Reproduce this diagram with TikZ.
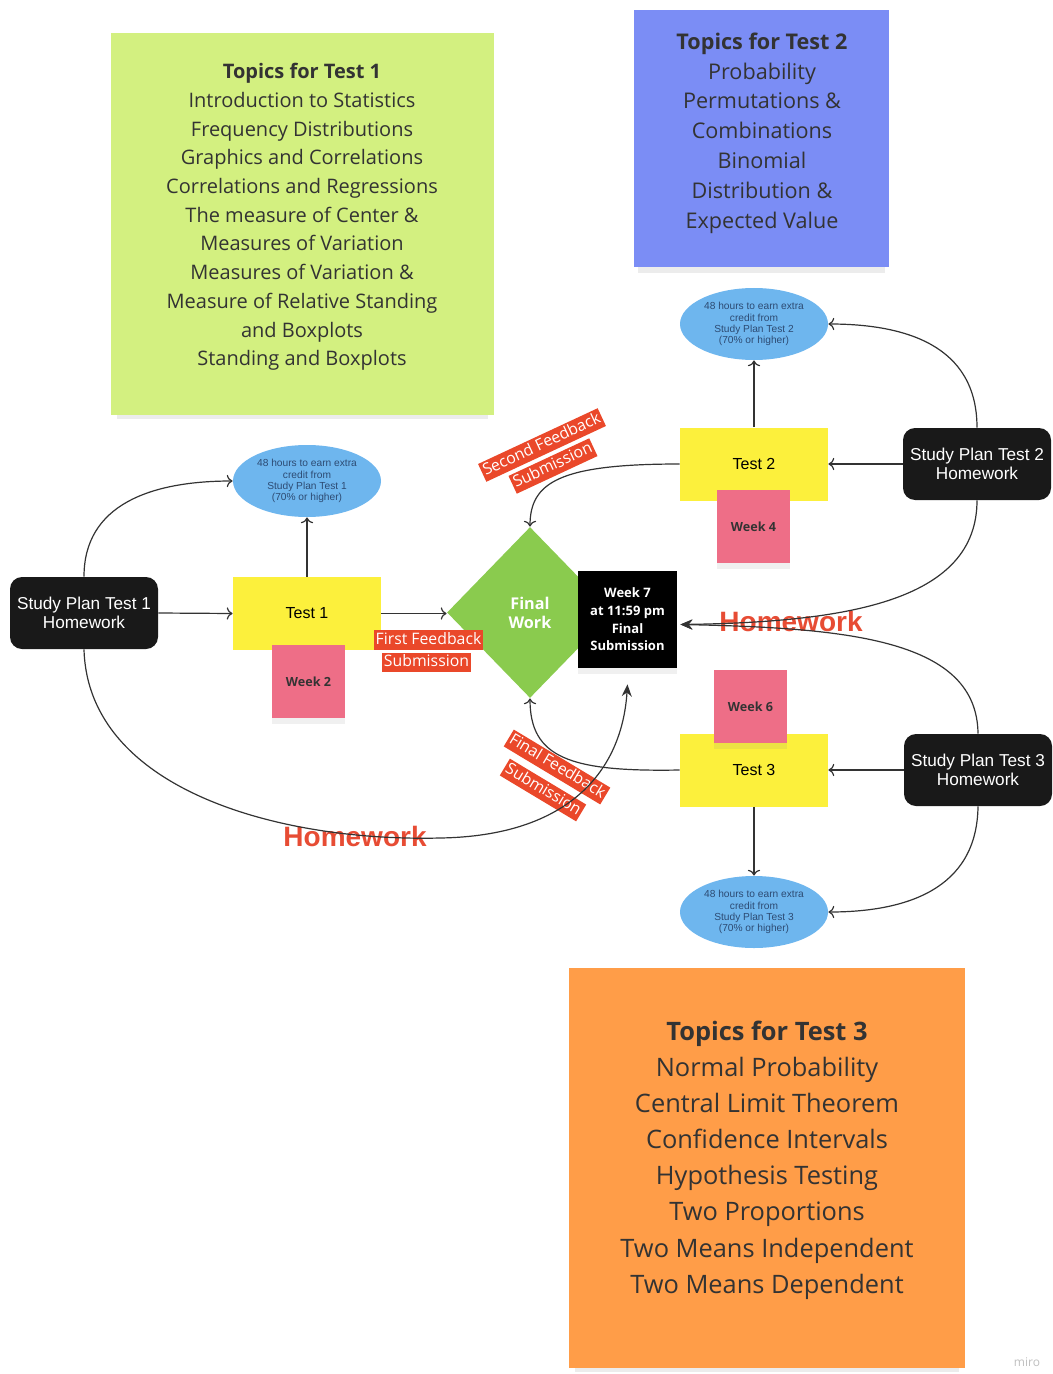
\documentclass[tikz,border=0pt]{standalone}
\usepackage{fontspec}
\setmainfont{Open Sans}
\newfontfamily\arialfont{Liberation Sans}
\usetikzlibrary{shapes.geometric,shadows,arrows.meta}
\definecolor{notegreen}{RGB}{211,240,128}
\definecolor{noteblue}{RGB}{123,141,245}
\definecolor{noteorange}{RGB}{255,157,72}
\definecolor{testyellow}{RGB}{252,240,60}
\definecolor{weekpink}{RGB}{238,110,135}
\definecolor{bubbleblue}{RGB}{110,182,238}
\definecolor{finalgreen}{RGB}{138,203,78}
\definecolor{tagred}{RGB}{234,72,42}
\definecolor{hwred}{RGB}{231,76,52}
\definecolor{bubbletext}{RGB}{45,75,115}
\begin{document}
\begin{tikzpicture}[x=0.5pt,y=-0.5pt,
	lifted/.style={drop shadow={shadow xshift=0pt,shadow yshift=-3pt,opacity=0.12}},
	note/.style={fill=#1,drop shadow={shadow xshift=0pt,shadow yshift=-5pt,shadow scale=0.97,opacity=0.15}},
	notetext/.style={align=center,text=black!80},
	spbox/.style={fill=black!90,rounded corners=6pt,minimum width=74pt,minimum height=36pt,text=white,align=center,font=\arialfont\fontsize{8.6}{9.5}\selectfont},
	testbox/.style={fill=testyellow,minimum width=74pt,minimum height=36.5pt,font=\arialfont\fontsize{8}{9}\selectfont},
	week/.style={fill=weekpink,minimum size=36.5pt,lifted,text=black!80,font=\bfseries\fontsize{6.3}{7}\selectfont},
	bubble/.style={ellipse,fill=bubbleblue,minimum width=74pt,minimum height=36pt,inner sep=0pt,align=center,text=bubbletext,font=\arialfont\fontsize{5.1}{5.6}\selectfont},
	tag/.style={fill=tagred,text=white,inner sep=1pt,text height=6pt,text depth=1.8pt,font=\fontsize{7.9}{9}\selectfont},
	hw/.style={text=hwred,font=\arialfont\bfseries\fontsize{14}{16}\selectfont},
	conn/.style={draw=black!80,line width=0.6pt,->},
	hwconn/.style={draw=black!80,line width=0.6pt,-{Stealth[length=6pt,width=5pt]}}]
\useasboundingbox (0,0) rectangle (1053,1374);

\node[note=notegreen,minimum width=191.5pt,minimum height=191pt] (t1note) at (302.5,224) {};
\node[notetext,font=\fontsize{10}{14.35}\selectfont] (t1topics) at (302,217) {\textbf{Topics for Test 1}\\Introduction to Statistics\\Frequency Distributions\\Graphics and Correlations\\Correlations and Regressions\\The measure of Center \&\\Measures of Variation\\Measures of Variation \&\\Measure of Relative Standing\\and Boxplots\\Standing and Boxplots};
\node[note=noteblue,minimum width=127.5pt,minimum height=128.5pt] (t2note) at (761.5,138.5) {};
\node[notetext,font=\fontsize{10.8}{14.9}\selectfont] (t2topics) at (762,133) {\textbf{Topics for Test 2}\\Probability\\Permutations \&\\Combinations\\Binomial\\Distribution \&\\Expected Value};
\node[note=noteorange,minimum width=198pt,minimum height=200pt] (t3note) at (767,1168) {};
\node[notetext,font=\fontsize{12.7}{18.07}\selectfont] (t3topics) at (767,1160) {\textbf{Topics for Test 3}\\Normal Probability\\Central Limit Theorem\\Confidence Intervals\\Hypothesis Testing\\Two Proportions\\Two Means Independent\\Two Means Dependent};

\node[bubble] (bubble1) at (307,481) {48 hours to earn extra\\credit from\\Study Plan Test 1\\(70\% or higher)};
\node[bubble] (bubble2) at (754,324) {48 hours to earn extra\\credit from\\Study Plan Test 2\\(70\% or higher)};
\node[bubble] (bubble3) at (754,912) {48 hours to earn extra\\credit from\\Study Plan Test 3\\(70\% or higher)};

\node[spbox] (sp1) at (84,613) {Study Plan Test 1\\Homework};
\node[spbox] (sp2) at (977,464) {Study Plan Test 2\\Homework};
\node[spbox] (sp3) at (978,770) {Study Plan Test 3\\Homework};

\node[testbox] (test1) at (307,613.5) {Test 1};
\node[testbox] (test2) at (754,464) {Test 2};
\node[testbox] (test3) at (754,770) {Test 3};
\node[week] (week2) at (308.5,681.5) {Week 2};
\node[week] (week4) at (753.5,526.5) {Week 4};
\node[week] (week6) at (750.5,706.5) {Week 6};

\node[diamond,fill=finalgreen,minimum width=83pt,minimum height=85.5pt,inner sep=0pt,text=white,align=center,font=\bfseries\fontsize{8.1}{9.5}\selectfont] (final) at (530,612.5) {Final\\Work};
\node[fill=black,minimum width=49.5pt,minimum height=48.5pt,lifted,text=white,align=center,font=\bfseries\fontsize{6.5}{8.85}\selectfont] (fsub) at (627.5,619.5) {Week 7\\at 11:59 pm\\Final\\Submission};

\node[tag] (first1) at (428.5,640) {First Feedback};
\node[tag] (first2) at (426.5,662.5) {Submission};
\node[tag,rotate=25] (second1) at (542,445) {Second Feedback};
\node[tag,rotate=25] (second2) at (553,466) {Submission};
\node[tag,rotate=-31] (last1) at (557,767) {Final Feedback};
\node[tag,rotate=-31] (last2) at (543,790) {Submission};

\node[hw] (hw1) at (355,836) {Homework};
\node[hw] (hw2) at (791,621) {Homework};
\node[text=black!25,font=\fontsize{6}{7}\selectfont] (miro) at (1027,1362) {miro};

\coordinate (fsubin) at ([xshift=1.5pt,yshift=-2.5pt]fsub.east);
\coordinate (fsubup) at ([yshift=-8pt]fsub.south);

\draw[conn] (sp1.east) -- (test1.west);
\draw[conn] (test1.north) -- (bubble1.south);
\draw[conn] (test1.east) -- (test1.east -| final.west);
\draw[conn] (sp1.north) .. controls (84,505) and (150,481) .. (bubble1.west);
\draw[hwconn] (sp1.south) .. controls (88,790) and (280,842) .. (440,838) .. controls (570,836) and (622,770) .. (fsubup);
\draw[conn] (sp2.west) -- (test2.east);
\draw[conn] (test2.north) -- (bubble2.south);
\draw[conn] (sp2.north) .. controls (977,345) and (905,324) .. (bubble2.east);
\draw[conn] (test2.west) .. controls (560,464) and (530,482) .. (final.north);
\draw[hwconn] (sp2.south) .. controls (977,600) and (850,622) .. (fsubin);
\draw[hwconn] (sp3.north) .. controls (977,640) and (850,628) .. (fsubin);
\draw[conn] (sp3.west) -- (test3.east);
\draw[conn] (test3.south) -- (bubble3.north);
\draw[conn] (test3.west) .. controls (570,772) and (530,758) .. (final.south);
\draw[conn] (sp3.south) .. controls (977,890) and (905,912) .. (bubble3.east);
\end{tikzpicture}
\end{document}
